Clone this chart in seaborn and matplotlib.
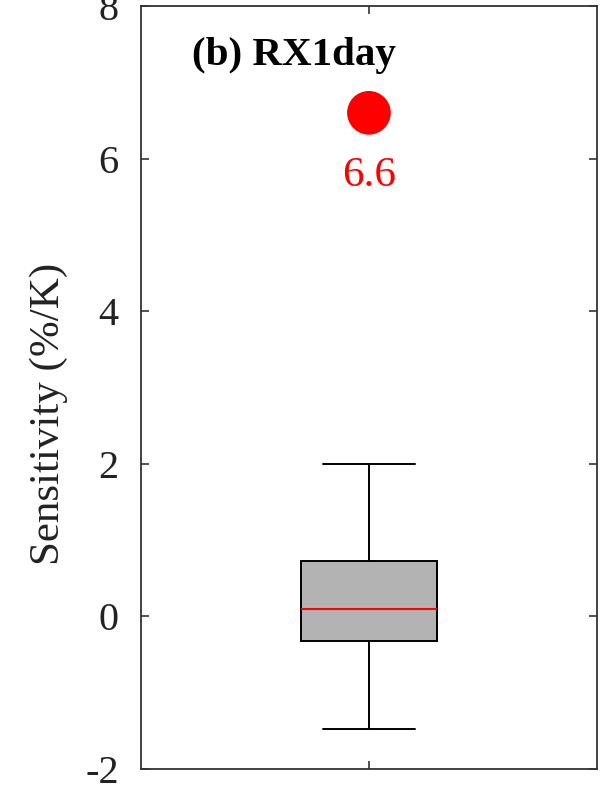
import matplotlib
matplotlib.use("Agg")
import matplotlib.pyplot as plt
import seaborn as sns
import pandas as pd

# Model spread of RX1day sensitivity: min, Q1, median, Q3, max (%/K)
model_sensitivity = [-1.47, -0.32, 0.10, 0.73, 2.00]
# Observed sensitivity (%/K)
observed_sensitivity = 6.6
panel_title = "(b) RX1day"
y_ticks = [-2, 0, 2, 4, 6, 8]
y_tick_labels = ["-2", "0", "2", "4", "6", "8"]

sns.set_style("ticks")
plt.rcParams["font.family"] = ["Liberation Serif", "DejaVu Serif"]
plt.rcParams["axes.unicode_minus"] = False

fig = plt.figure(figsize=(6.02, 7.87), dpi=100)
ax = fig.add_axes([0.234, 0.0229, 0.7577, 0.9695])

df = pd.DataFrame({"group": ["all"] * len(model_sensitivity),
                   "sens": model_sensitivity})
sns.boxplot(data=df, x="group", y="sens", ax=ax, width=0.3, whis=(0, 100),
            color="#b3b3b3", saturation=1, linecolor="black", linewidth=1.4,
            capwidths=0.2,
            medianprops=dict(color="red", linewidth=1.5))

sns.scatterplot(x=["all"], y=[observed_sensitivity], ax=ax, s=990,
                color="red", edgecolor="none", zorder=5)
ax.annotate(f"{observed_sensitivity:.1f}", xy=(0, observed_sensitivity),
            xytext=(0, -52.5), textcoords="offset points",
            ha="center", va="baseline", color="red", fontsize=31)

ax.text(0.112, 0.9227, panel_title, transform=ax.transAxes,
        ha="left", va="baseline", fontsize=29.5, fontweight="bold",
        color="black")

ax.set_xlim(-0.5, 0.5)
ax.set_ylim(-2, 8)
ax.set_yticks(y_ticks)
ax.set_yticklabels(y_tick_labels)
ax.set_xticks([0])
ax.set_xticklabels([""])
ax.set_xlabel("")
ax.set_ylabel("")
ax.text(-0.203, 0.465, "Sensitivity (%/K)", transform=ax.transAxes,
        rotation=90, ha="center", va="center", fontsize=31, color="#222222")

ax.tick_params(axis="both", direction="in", length=6, width=1.2,
               color="#333333", top=True, right=True,
               labelsize=29, labelcolor="#222222", pad=16)
for sp in ax.spines.values():
    sp.set_visible(True)
    sp.set_color("#333333")
    sp.set_linewidth(1.3)

fig.savefig("out.png", dpi=100)
